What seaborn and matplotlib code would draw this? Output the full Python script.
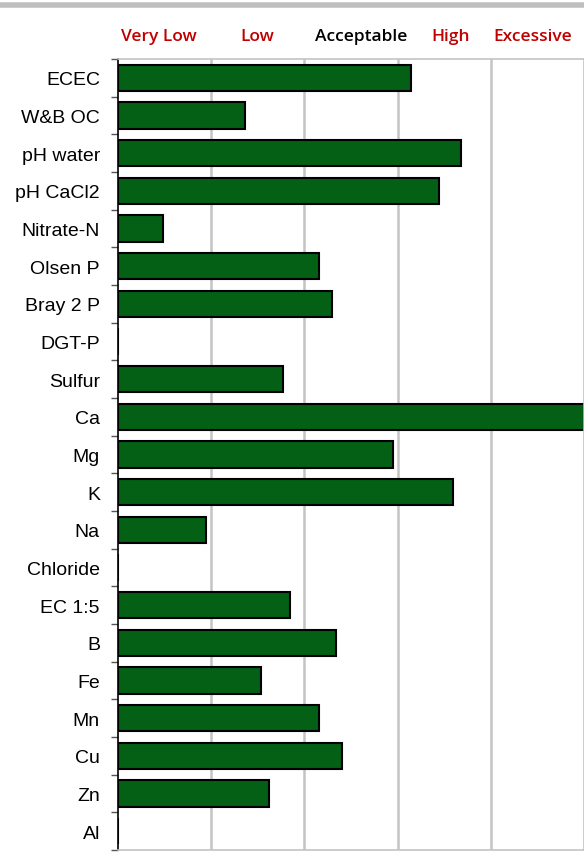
import pandas as pd
import seaborn as sns
import matplotlib.pyplot as plt
from matplotlib.lines import Line2D
from matplotlib.ticker import FixedLocator

# Soil test results (position on the rating scale, 0-5)
tests = ["ECEC", "W&B OC", "pH water", "pH CaCl2", "Nitrate-N", "Olsen P",
         "Bray 2 P", "DGT-P", "Sulfur", "Ca", "Mg", "K", "Na", "Chloride",
         "EC 1:5", "B", "Fe", "Mn", "Cu", "Zn", "Al"]
scores = [3.14, 1.36, 3.68, 3.44, 0.48, 2.16, 2.30, 0.0, 1.77, 5.0, 2.95,
          3.59, 0.94, 0.0, 1.85, 2.34, 1.53, 2.16, 2.40, 1.62, 0.0]
ratings = ["Very Low", "Low", "Acceptable", "High", "Excessive"]
rating_colors = ["#c00000", "#c00000", "#000000", "#c00000", "#c00000"]
# where the rating headings sit (in scale units)
rating_pos = [0.44, 1.50, 2.61, 3.57, 4.45]

df = pd.DataFrame({"test": tests, "score": scores})

sns.set_style("white")
plt.rcParams['font.family'] = ['Liberation Sans', 'DejaVu Sans']

fig = plt.figure(figsize=(5.84, 8.53), dpi=100)
ax = fig.add_axes([0.202, 0.0023, 0.798, 0.9274])

sns.barplot(data=df, x="score", y="test", orient="h", color="#036015",
            saturation=1, edgecolor="black", linewidth=1.5, width=0.7, ax=ax)

ax.set_xlim(0, 5)
ax.set_ylim(len(tests) - 0.5, -0.5)
ax.set_xlabel("")
ax.set_ylabel("")
ax.set_xticks([1, 2, 3, 4])
ax.set_xticklabels([])
ax.tick_params(axis="x", length=0)
ax.xaxis.grid(True, color="#c4c4c4", linewidth=1.8)
ax.set_axisbelow(True)

ax.tick_params(axis="y", which="major", length=0, labelsize=14, pad=13,
               labelcolor="black")
ax.yaxis.set_minor_locator(FixedLocator([i - 0.5 for i in range(len(tests) + 1)]))
ax.tick_params(axis="y", which="minor", length=5, width=1, color="#555555", left=True)

for side in ["top", "bottom", "right"]:
    ax.spines[side].set_color("#c4c4c4")
    ax.spines[side].set_linewidth(1.2)
ax.spines["left"].set_color("black")
ax.spines["left"].set_linewidth(1.2)

# rating labels above the bars
for r, c, x in zip(ratings, rating_colors, rating_pos):
    ax.text(x, -1.12, r, color=c, ha="center", va="center", fontsize=12.5,
            fontweight="semibold", family=["Open Sans", "DejaVu Sans"], clip_on=False)

# grey band across the top
fig.add_artist(Line2D([0, 1], [0.9935, 0.9935], color="#bfbfbf", linewidth=4,
                      transform=fig.transFigure))

fig.savefig("out.png", dpi=100)
